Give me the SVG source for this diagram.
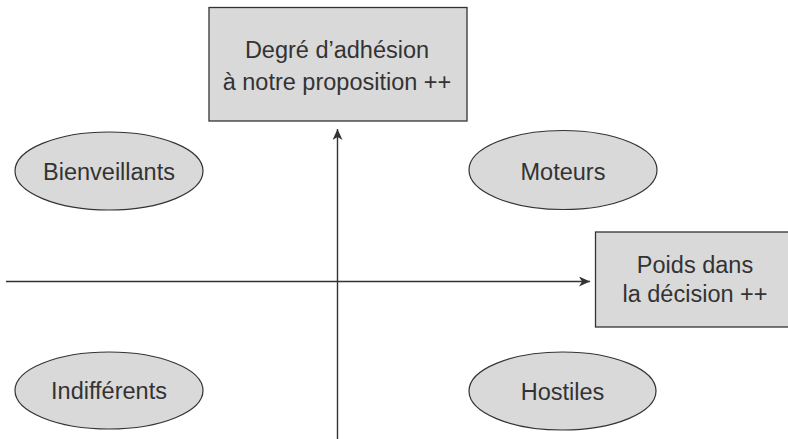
<svg xmlns="http://www.w3.org/2000/svg" width="788" height="439" viewBox="0 0 788 439">
<style>
.box{fill:#d9d9d9;stroke:#333;stroke-width:1.3}
.ell{fill:#d9d9d9;stroke:#333;stroke-width:1.2}
.t{font-family:"Liberation Sans",Arial,sans-serif;font-size:23.5px;fill:#333;text-anchor:middle}
.ax{stroke:#333;stroke-width:1.4;fill:none}
</style>
<defs>
<marker id="ah" markerWidth="12" markerHeight="10" refX="11" refY="5" orient="auto" markerUnits="userSpaceOnUse">
<path d="M0,0 L11,5 L0,10 L3,5 Z" fill="#333"/>
</marker>
</defs>
<rect width="788" height="439" fill="#fff"/>
<g id="connectors">
<line class="ax" x1="337.5" y1="439" x2="337.5" y2="129" marker-end="url(#ah)"/>
<line class="ax" x1="6" y1="281.5" x2="590" y2="281.5" marker-end="url(#ah)"/>
</g>
<g id="adhesion">
<rect class="box" x="209" y="7.5" width="258" height="113.5"/>
<text class="t" x="337" y="58">Degré d’adhésion</text>
<text class="t" x="337" y="90">à notre proposition ++</text>
</g>
<g id="poids">
<rect class="box" x="595.5" y="232" width="195" height="95"/>
<text class="t" x="695" y="273">Poids dans</text>
<text class="t" x="695" y="302">la décision ++</text>
</g>
<g id="bienveillants">
<ellipse class="ell" cx="109" cy="171" rx="94" ry="39"/>
<text class="t" x="109" y="180">Bienveillants</text>
</g>
<g id="moteurs">
<ellipse class="ell" cx="563" cy="170" rx="94" ry="39.5"/>
<text class="t" x="563" y="179.5">Moteurs</text>
</g>
<g id="indifferents">
<ellipse class="ell" cx="109" cy="390.5" rx="94" ry="38.5"/>
<text class="t" x="109" y="399">Indifférents</text>
</g>
<g id="hostiles">
<ellipse class="ell" cx="562.5" cy="391" rx="93.5" ry="39"/>
<text class="t" x="562.5" y="399.5">Hostiles</text>
</g>
</svg>
